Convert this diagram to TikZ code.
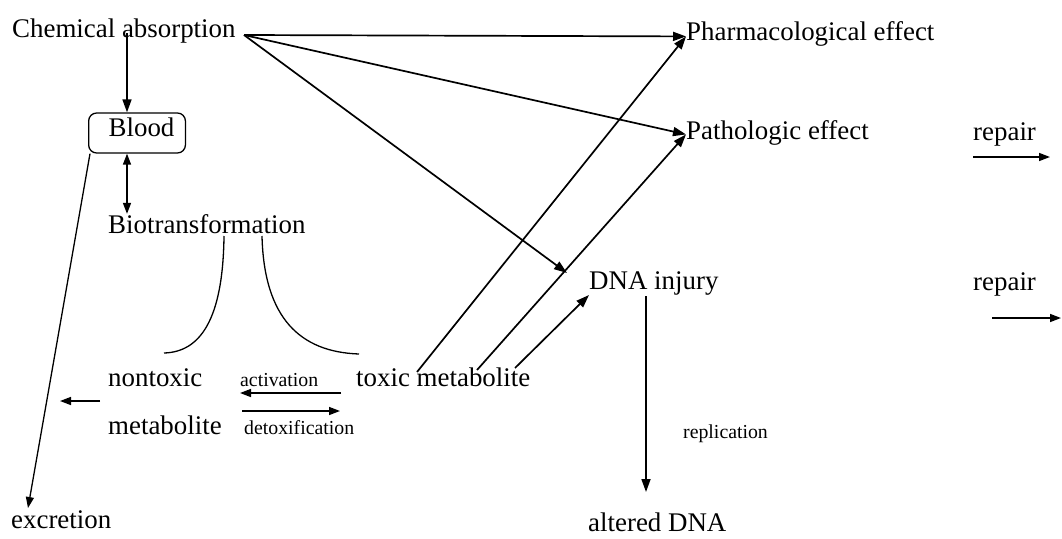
\documentclass[tikz,border=0pt]{standalone}
\usepackage{fontspec}
\setmainfont{Liberation Serif}
\usetikzlibrary{arrows.meta}
\begin{document}
\begin{tikzpicture}[x=1pt,y=-1pt,
  lbl/.style={anchor=base west, inner sep=0pt, font=\fontsize{26.9}{30}\selectfont},
  small/.style={anchor=base west, inner sep=0pt, font=\fontsize{19.8}{24}\selectfont},
  arr/.style={line width=1.7pt, -{Triangle[length=13pt,width=9pt]}},
  sarr/.style={line width=1.5pt, -{Triangle[length=11pt,width=8pt]}},
  thinline/.style={line width=1.3pt}]
\useasboundingbox (0,0) rectangle (1062,538);
% nodes
\node[lbl] (chem) at (12,37) {Chemical absorption};
\node[lbl, draw, line width=1.3pt, rounded corners=8pt, text height=23pt, text depth=17pt] (blood) at (88,136) {\hspace*{20pt}Blood\hspace*{11pt}};
\node[lbl] (bio) at (108,233) {Biotransformation};
\node[lbl] (nontox) at (108,386) {nontoxic};
\node[lbl] (metab) at (108,434) {metabolite};
\node[small] (act) at (240,386) {activation};
\node[small] (detox) at (244,434) {detoxification};
\node[lbl] (toxic) at (356,386) {toxic metabolite};
\node[lbl] (excr) at (11,528) {excretion};
\node[lbl] (pharm) at (686,40) {Pharmacological effect};
\node[lbl] (path) at (686,139) {Pathologic effect};
\node[lbl] (rep1) at (973,140) {repair};
\node[lbl] (rep2) at (973,290) {repair};
\node[lbl] (dna) at (589,289) {DNA injury};
\node[small] (repl) at (683,438) {replication};
\node[lbl] (alt) at (588,531) {altered DNA};
% coordinates
\coordinate (chemR) at (244,35);
\coordinate (cb) at (127,33);
\coordinate (excTop) at (28,508);
\coordinate (bioL) at (224,236);
\coordinate (bioR) at (262,236);
\coordinate (nonEnd) at (164,353);
\coordinate (toxEnd) at (359,354);
\coordinate (actS) at (341,393);
\coordinate (actE) at (240,393);
\coordinate (detS) at (242,411);
\coordinate (detE) at (340,411);
\coordinate (exS) at (100,401);
\coordinate (exE) at (60,401);
\coordinate (t1) at (417,372);
\coordinate (t2) at (477,370);
\coordinate (t3) at (515,368);
\coordinate (dd) at (646,296);
\coordinate (dd2) at (646,492);
\coordinate (r1s) at (973,157);
\coordinate (r1e) at (1050,157);
\coordinate (r2s) at (992,318);
\coordinate (r2e) at (1061,318);
% connectors
\draw[arr] (cb) -- (cb |- blood.north);
\draw[line width=1.5pt, {Triangle[length=11pt,width=8pt]}-{Triangle[length=11pt,width=8pt]}] (cb |- blood.south) -- (cb |- bio.north);
\draw[thinline, -{Triangle[length=11pt,width=8pt]}] ([xshift=2pt]blood.south west) -- (excTop);
\draw[thinline] (bioL) .. controls (223,320) and (200,352) .. (nonEnd);
\draw[thinline] (bioR) .. controls (264,318) and (300,352) .. (toxEnd);
\draw[sarr] (actS) -- (actE);
\draw[sarr] (detS) -- (detE);
\draw[sarr] (exS) -- (exE);
\draw[arr] (chemR) -- ([yshift=-3pt]pharm.west);
\draw[arr] (chemR) -- ([yshift=-2pt]path.west);
\draw[arr] (chemR) -- ([xshift=-22pt,yshift=-2pt]dna.north west);
\draw[arr] (t1) -- ([yshift=-3pt]pharm.west);
\draw[arr] (t2) -- ([yshift=-2pt]path.west);
\draw[arr] (t3) -- (dna.south west);
\draw[arr] (dd) -- (dd2);
\draw[sarr] (r1s) -- (r1e);
\draw[sarr] (r2s) -- (r2e);
\end{tikzpicture}
\end{document}
